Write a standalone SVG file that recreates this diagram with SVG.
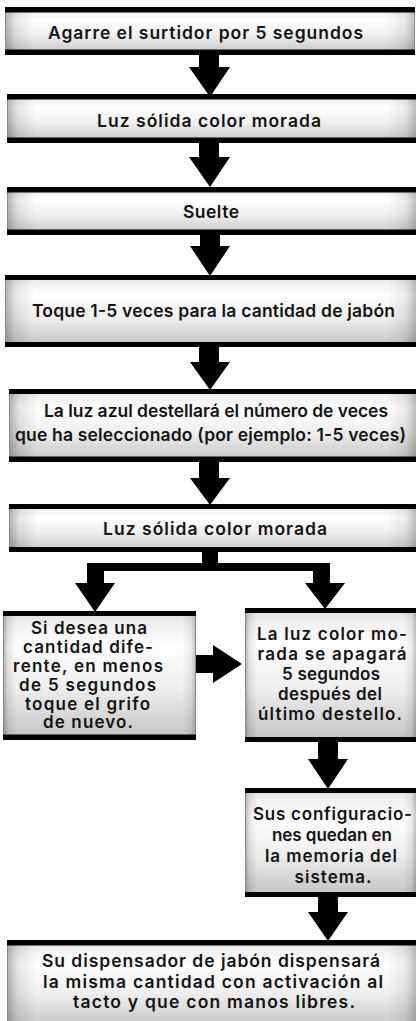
<svg xmlns="http://www.w3.org/2000/svg" width="416" height="1021" viewBox="0 0 416 1021">
<defs>
<linearGradient id="vg" x1="0" y1="0" x2="0" y2="1">
<stop offset="0" stop-color="#dcdcdc"/>
<stop offset="0.12" stop-color="#f2f2f2"/>
<stop offset="0.28" stop-color="#ffffff"/>
<stop offset="0.6" stop-color="#eeeeee"/>
<stop offset="1" stop-color="#c2c2c2"/>
</linearGradient>
<linearGradient id="hg" x1="0" y1="0" x2="1" y2="0">
<stop offset="0" stop-color="#000" stop-opacity="0.3"/>
<stop offset="0.025" stop-color="#000" stop-opacity="0.1"/>
<stop offset="0.07" stop-color="#000" stop-opacity="0"/>
<stop offset="0.93" stop-color="#000" stop-opacity="0"/>
<stop offset="0.975" stop-color="#000" stop-opacity="0.08"/>
<stop offset="1" stop-color="#000" stop-opacity="0.25"/>
</linearGradient>
</defs>
<style>
.bg{fill:url(#vg)}
.sh{fill:url(#hg)}
.edge{fill:none;stroke:#8a8a8a;stroke-width:1}
.bar{fill:#000}
.arr{fill:#000}
text{font-family:Inter,"Open Sans","Liberation Sans",sans-serif;font-weight:600;font-size:17.5px;fill:#141414;text-anchor:middle}
.s{font-size:17px}
</style>
<rect width="416" height="1021" fill="#fff"/>

<g id="connectors">
<polygon class="arr" points="199,54 219,54 219,67 230,67 210,97 189,67 199,67"/>
<polygon class="arr" points="199,142 219,142 219,157 230,157 210,187 189,157 199,157"/>
<polygon class="arr" points="200,234 220,234 220,246 230,246 210,276 190,246 200,246"/>
<polygon class="arr" points="199,346 219,346 219,362 230,362 210,390 190,362 199,362"/>
<polygon class="arr" points="199,461 219,461 219,478 230,478 210,505 190,478 199,478"/>
<polygon class="arr" points="202,551 218,551 218,563 330,563 330,583 345,583 325,609 305,583 313,583 313,571 104,571 104,583 115,583 95,612 75,583 87,583 87,563 202,563"/>
<polygon class="arr" points="196,655 213,655 213,645 242,664 213,683 213,673 196,673"/>
<polygon class="arr" points="318,741 338,741 338,759 348,759 328,789 308,759 318,759"/>
<polygon class="arr" points="318,896 338,896 338,912 348,912 328,941 308,912 318,912"/>
</g>

<g id="n1">
<rect class="bg" x="5" y="7" width="410" height="48"/><rect class="sh" x="5" y="7" width="410" height="48"/>
<rect class="edge" x="5.5" y="7.5" width="409" height="47"/>
<rect class="bar" x="5" y="7" width="410" height="5.5"/><rect class="bar" x="5" y="49.5" width="410" height="5.5"/>
<text x="205.5" y="39" textLength="315">Agarre el surtidor por 5 segundos</text>
</g>

<g id="n2">
<rect class="bg" x="7" y="94" width="409" height="49"/><rect class="sh" x="7" y="94" width="409" height="49"/>
<rect class="edge" x="7.5" y="94.5" width="410" height="48"/>
<rect class="bar" x="7" y="94" width="409" height="5.5"/><rect class="bar" x="7" y="137.5" width="409" height="5.5"/>
<text x="209" y="127" textLength="224">Luz sólida color morada</text>
</g>

<g id="n3">
<rect class="bg" x="7" y="187" width="409" height="48"/><rect class="sh" x="7" y="187" width="409" height="48"/>
<rect class="edge" x="7.5" y="187.5" width="410" height="47"/>
<rect class="bar" x="7" y="187" width="409" height="5.5"/><rect class="bar" x="7" y="229.5" width="409" height="5.5"/>
<text x="211" y="218" textLength="56">Suelte</text>
</g>

<g id="n4">
<rect class="bg" x="5" y="275" width="411" height="72"/><rect class="sh" x="5" y="275" width="411" height="72"/>
<rect class="edge" x="5.5" y="275.5" width="412" height="71"/>
<rect class="bar" x="5" y="275" width="411" height="5"/><rect class="bar" x="5" y="342" width="411" height="5"/>
<text x="213.5" y="317" textLength="363">Toque 1-5 veces para la cantidad de jabón</text>
</g>

<g id="n5">
<rect class="bg" x="9" y="389" width="407" height="73"/><rect class="sh" x="9" y="389" width="407" height="73"/>
<rect class="edge" x="9.5" y="389.5" width="408" height="72"/>
<rect class="bar" x="9" y="389" width="407" height="5"/><rect class="bar" x="9" y="456.5" width="407" height="5.5"/>
<text x="216" y="417" textLength="344">La luz azul destellará el número de veces</text>
<text x="210.5" y="441" textLength="391">que ha seleccionado (por ejemplo: 1-5 veces)</text>
</g>

<g id="n6">
<rect class="bg" x="9" y="504" width="407" height="48"/><rect class="sh" x="9" y="504" width="407" height="48"/>
<rect class="edge" x="9.5" y="504.5" width="408" height="47"/>
<rect class="bar" x="9" y="504" width="407" height="5"/><rect class="bar" x="9" y="547" width="407" height="5"/>
<text x="215" y="535" textLength="224">Luz sólida color morada</text>
</g>

<g id="n7">
<rect class="bg" x="3" y="611" width="193" height="129"/><rect class="sh" x="3" y="611" width="193" height="129"/>
<rect class="edge" x="3.5" y="611.5" width="192" height="128"/>
<rect class="bar" x="3" y="611" width="193" height="5"/><rect class="bar" x="3" y="734.5" width="193" height="5.5"/>
<text class="s" x="89" y="634" textLength="116">Si desea una</text>
<text class="s" x="88" y="653" textLength="130">cantidad dife-</text>
<text class="s" x="88" y="672" textLength="150">rente, en menos</text>
<text class="s" x="87.5" y="691" textLength="137">de 5 segundos</text>
<text class="s" x="87.5" y="709.5" textLength="125">toque el grifo</text>
<text class="s" x="88" y="728" textLength="90">de nuevo.</text>
</g>

<g id="n8">
<rect class="bg" x="245" y="608" width="171" height="134"/><rect class="sh" x="245" y="608" width="171" height="134"/>
<rect class="edge" x="245.5" y="608.5" width="172" height="133"/>
<rect class="bar" x="245" y="608" width="171" height="5"/><rect class="bar" x="245" y="737" width="171" height="5"/>
<text class="s" x="332" y="640" textLength="150">La luz color mo-</text>
<text class="s" x="332" y="660" textLength="149">rada se apagará</text>
<text class="s" x="331" y="680" textLength="98">5 segundos</text>
<text class="s" x="330" y="700" textLength="104">después del</text>
<text class="s" x="330" y="720" textLength="144">último destello.</text>
</g>

<g id="n9">
<rect class="bg" x="245" y="788" width="171" height="109"/><rect class="sh" x="245" y="788" width="171" height="109"/>
<rect class="edge" x="245.5" y="788.5" width="172" height="108"/>
<rect class="bar" x="245" y="788" width="171" height="5"/><rect class="bar" x="245" y="892" width="171" height="5"/>
<text class="s" x="332.5" y="820" textLength="159">Sus configuracio-</text>
<text class="s" x="332" y="841" textLength="120">nes quedan en</text>
<text class="s" x="331" y="862" textLength="132">la memoria del</text>
<text class="s" x="333" y="883" textLength="77">sistema.</text>
</g>

<g id="n10">
<rect class="bg" x="7" y="940" width="409" height="90"/><rect class="sh" x="7" y="940" width="409" height="90"/>
<rect class="edge" x="7.5" y="940.5" width="410" height="89"/>
<rect class="bar" x="7" y="940" width="409" height="5.5"/>
<text x="211" y="967" textLength="338">Su dispensador de jabón dispensará</text>
<text x="213" y="988" textLength="340">la misma cantidad con activación al</text>
<text x="214" y="1008" textLength="282">tacto y que con manos libres.</text>
</g>
</svg>
